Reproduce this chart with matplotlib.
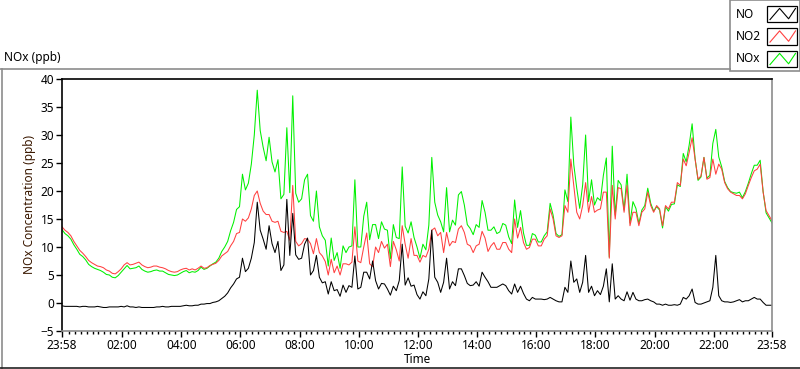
import numpy as np
import matplotlib
matplotlib.use("Agg")
import matplotlib.pyplot as plt
from matplotlib.lines import Line2D
from matplotlib.patches import Rectangle

plt.rcParams['font.family'] = ['Noto Sans', 'DejaVu Sans']

# samples every 6 minutes, starting 23:58 the day before (hours of day)
start_h = -2 / 60
step_h = 0.1

no = [
    -0.5, -0.6, -0.6, -0.6, -0.6, -0.6, -0.7, -0.6, -0.6, -0.7, -0.7, -0.7,
    -0.6, -0.7, -0.8, -0.8, -0.7, -0.7, -0.7, -0.7, -0.6, -0.7, -0.5, -0.7,
    -0.7, -0.8, -0.7, -0.8, -0.8, -0.8, -0.8, -0.8, -0.7, -0.7, -0.6, -0.7,
    -0.7, -0.6, -0.6, -0.6, -0.6, -0.5, -0.4, -0.5, -0.5, -0.4, -0.4, -0.2,
    -0.2, -0.1, -0.1, 0.1, 0.2, 0.4, 0.8, 1.2, 1.8, 2.7, 3.4, 4.3,
    4.6, 8.0, 5.6, 6.2, 8.0, 10.8, 18.0, 13.0, 11.4, 9.6, 13.8, 10.6,
    9.0, 11.0, 5.8, 6.8, 18.5, 8.5, 16.0, 8.6, 7.8, 8.0, 10.5, 11.6,
    5.0, 5.8, 8.5, 4.6, 3.6, 3.8, 1.6, 3.8, 2.2, 2.4, 1.2, 3.2,
    1.9, 3.1, 2.8, 8.4, 2.5, 2.8, 5.5, 5.5, 4.3, 7.5, 4.0, 2.5,
    3.5, 3.4, 2.5, 1.4, 3.0, 2.2, 4.0, 10.5, 3.2, 4.5, 3.0, 3.2,
    1.5, 0.7, 2.0, 1.3, 4.3, 13.0, 4.6, 3.7, 1.9, 3.7, 8.0, 2.5,
    3.8, 3.1, 6.1, 6.1, 4.9, 3.5, 3.1, 3.2, 3.8, 3.0, 5.5, 4.6,
    3.8, 2.8, 2.8, 2.8, 3.1, 3.4, 3.1, 2.2, 1.6, 3.4, 1.9, 3.0,
    1.7, 0.7, 0.4, 1.0, 0.7, 0.7, 0.7, 0.6, 0.7, 1.0, 0.7, 0.4,
    0.2, 0.2, 2.8, 1.9, 7.5, 3.7, 4.3, 1.9, 3.7, 8.5, 1.9, 3.0,
    1.3, 2.2, 1.5, 3.0, 6.1, 0.2, 7.0, 0.7, 1.3, 0.7, 0.4,
    2.0, 0.5, 1.9, 0.7, 0.4, 0.4, 0.6, 0.7, 0.4, 0.2, -0.2, -0.2,
    -0.4, -0.2, -0.4, -0.4, -0.3, -0.4, -0.2, 1.0, 0.7, 1.3, 2.5, 0.1,
    -0.2, -0.2, 0.0, 0.2, 0.4, 2.8, 8.5, 1.3, 0.4, 0.2, 0.2, 0.1,
    0.2, 0.4, 0.6, 0.2, 0.4, 0.4, 0.7, 1.0, 0.7, 0.7, 0.1, -0.4,
    -0.4, -0.4,
]

no2 = [
    13.6, 13.0, 12.6, 12.0, 11.0, 10.2, 9.4, 8.9, 8.3, 7.6, 7.2, 6.9,
    6.6, 6.5, 6.3, 5.9, 5.7, 5.3, 5.2, 5.6, 6.1, 6.8, 7.2, 6.8,
    6.9, 7.1, 7.3, 6.8, 6.5, 6.3, 6.4, 6.6, 6.6, 6.4, 6.3, 6.1,
    5.8, 5.6, 5.5, 5.6, 5.9, 6.1, 6.2, 5.9, 6.1, 5.9, 6.2, 6.6,
    6.2, 6.3, 6.7, 6.9, 7.1, 7.6, 8.4, 8.8, 9.2, 10.2, 11.0, 12.4,
    12.6, 15.0, 14.6, 15.2, 16.8, 19.2, 20.0, 17.8, 16.4, 15.8, 15.8, 14.6,
    14.4, 14.6, 12.8, 12.6, 12.8, 11.2, 21.0, 11.0, 10.2, 10.6, 11.5, 11.4,
    10.6, 8.8, 11.5, 9.0, 8.4, 7.4, 5.0, 7.8, 5.4, 6.6, 5.0, 7.0,
    7.0, 6.8, 7.3, 13.6, 7.5, 7.2, 10.0, 12.5, 7.0, 6.5, 10.0, 9.0,
    11.0, 9.8, 10.5, 6.5, 11.0, 9.5, 7.5, 13.8, 10.5, 8.0, 11.5, 8.5,
    8.5, 7.3, 8.5, 8.2, 9.6, 13.0, 13.4, 12.0, 12.6, 9.0, 12.6, 10.2,
    11.0, 10.8, 13.2, 13.8, 12.6, 10.5, 10.2, 9.0, 10.2, 10.5, 12.8, 11.6,
    9.2, 10.2, 10.8, 9.6, 9.6, 10.8, 10.8, 9.6, 9.0, 15.0, 11.6, 13.5,
    10.8, 9.6, 9.9, 11.4, 11.4, 10.2, 10.2, 11.4, 12.0, 16.8, 15.0, 12.0,
    11.7, 12.0, 17.4, 16.2, 25.7, 21.0, 16.2, 15.0, 17.4, 21.5, 16.2, 19.0,
    16.2, 16.6, 16.8, 19.8, 19.8, 8.0, 21.0, 15.0, 20.6, 20.4, 16.2,
    21.0, 13.8, 16.2, 16.2, 13.8, 16.2, 16.8, 19.8, 17.4, 16.2, 17.4, 16.8,
    13.8, 17.4, 16.8, 18.0, 18.0, 21.5, 21.0, 25.7, 24.5, 26.9, 29.5, 25.7,
    22.1, 22.7, 26.0, 22.1, 22.4, 25.7, 23.0, 24.8, 23.9, 21.5, 20.4, 19.8,
    19.5, 19.2, 19.2, 18.6, 19.5, 21.0, 22.4, 23.6, 23.9, 24.8, 19.8, 16.5,
    15.6, 14.7,
]

nox = [
    13.1, 12.4, 12.0, 11.4, 10.4, 9.6, 8.7, 8.3, 7.7, 6.9, 6.5, 6.2,
    6.0, 5.8, 5.5, 5.1, 5.0, 4.6, 4.5, 4.9, 5.5, 6.1, 6.7, 6.1,
    6.2, 6.3, 6.6, 6.0, 5.7, 5.5, 5.6, 5.8, 5.9, 5.7, 5.7, 5.4,
    5.1, 5.0, 4.9, 5.0, 5.3, 5.6, 5.8, 5.4, 5.6, 5.5, 5.8, 6.4,
    6.0, 6.2, 6.6, 7.0, 7.3, 8.0, 9.2, 10.0, 11.0, 12.9, 14.4, 16.7,
    17.2, 23.0, 20.2, 21.4, 24.8, 30.0, 38.0, 30.8, 27.8, 25.4, 29.6, 25.2,
    23.4, 25.6, 18.6, 19.4, 31.3, 19.7, 37.0, 19.6, 18.0, 18.6, 22.0, 23.0,
    15.6, 14.6, 20.0, 13.6, 12.0, 11.2, 6.6, 11.6, 7.6, 9.0, 6.2, 10.2,
    9.0, 10.0, 10.2, 22.0, 10.0, 10.0, 15.5, 18.0, 11.3, 14.0, 14.0, 11.5,
    14.5, 13.2, 13.0, 7.9, 14.0, 11.7, 11.5, 24.3, 13.7, 12.5, 14.5, 11.7,
    10.0, 8.0, 10.5, 9.5, 13.9, 26.0, 18.0, 15.7, 14.5, 12.7, 20.6, 12.7,
    14.8, 13.9, 19.3, 19.9, 17.5, 14.0, 13.3, 12.2, 14.0, 13.5, 18.3, 16.2,
    13.0, 13.0, 13.6, 12.4, 12.7, 14.2, 13.9, 11.8, 10.6, 18.4, 13.5, 16.5,
    12.5, 10.3, 10.3, 12.4, 12.1, 10.9, 10.9, 12.0, 12.7, 17.8, 15.7, 12.4,
    11.9, 12.2, 20.2, 18.1, 33.2, 24.7, 20.5, 16.9, 21.1, 30.0, 18.1, 22.0,
    17.5, 18.8, 18.3, 22.8, 25.9, 8.2, 28.0, 15.7, 21.9, 21.1, 16.6,
    23.0, 14.3, 18.1, 16.9, 14.2, 16.6, 17.4, 20.5, 17.8, 16.4, 17.2, 16.6,
    13.4, 17.2, 16.4, 17.6, 17.7, 21.1, 20.8, 26.7, 25.2, 28.2, 32.0, 25.8,
    21.9, 22.5, 26.0, 22.3, 22.8, 28.5, 31.0, 26.1, 24.3, 21.7, 20.6, 19.9,
    19.7, 19.6, 19.8, 18.8, 19.9, 21.4, 23.1, 24.6, 24.6, 25.5, 19.9, 16.1,
    15.2, 14.3,
]

series_names = ['NO', 'NO2', 'NOx']
series_colors = ['#000000', '#ff4040', '#00f000']

tick_hours = [start_h, 2, 4, 6, 8, 10, 12, 14, 16, 18, 20, 22, 24 + start_h]
tick_labels = ['23:58', '02:00', '04:00', '06:00', '08:00', '10:00', '12:00',
               '14:00', '16:00', '18:00', '20:00', '22:00', '23:58']

t = start_h + step_h * np.arange(len(no))

fig = plt.figure(figsize=(8, 3.69), dpi=100)
fig.patch.set_facecolor('white')
ax = fig.add_axes([62 / 800, 1 - 331 / 369, 710 / 800, 252 / 369])

# NOx first, then NO2, then NO on top
ax.plot(t, nox, color=series_colors[2], lw=0.75)
ax.plot(t, no2, color=series_colors[1], lw=0.75)
ax.plot(t, no, color=series_colors[0], lw=0.75)

ax.set_xlim(start_h, 24 + start_h)
ax.set_ylim(-5, 40)
ax.set_yticks(range(-5, 41, 5))
ax.set_xticks(tick_hours)
ax.set_xticklabels(tick_labels)
minor = [m * 0.2 for m in range(0, 120) if m % 10 != 0]
ax.set_xticks(minor, minor=True)
ax.tick_params(axis='both', which='major', direction='out', length=4,
               width=1, labelsize=8.5, colors='black', pad=1.5)
ax.tick_params(axis='x', which='minor', direction='out', length=2.5, width=1)

ax.spines['left'].set_color('black')
ax.spines['top'].set_color('black')
ax.spines['right'].set_color('#8c8c8c')
ax.spines['bottom'].set_color('#8c8c8c')
for s in ax.spines.values():
    s.set_linewidth(1.2)

ax.set_xlabel('Time', fontsize=8.5, labelpad=1)
ax.set_ylabel('NOx Concentration (ppb)', fontsize=8.5, color='#3a1800',
              labelpad=3)

fig.text(4 / 800, 1 - 58 / 369, 'NOx (ppb)', fontsize=8.5, va='center',
         ha='left')

# outer frame of the graph panel
fig.add_artist(Line2D([0, 730 / 800], [1 - 69 / 369] * 2, color='#8c8c8c',
                      lw=1.2, transform=fig.transFigure))
fig.add_artist(Line2D([1.5 / 800] * 2, [1 - 69 / 369, 0], color='#8c8c8c',
                      lw=1.2, transform=fig.transFigure))
fig.add_artist(Line2D([0, 1], [1 / 369] * 2, color='#222222',
                      lw=1.2, transform=fig.transFigure))

# plot legend box (top right)
fig.add_artist(Rectangle((730 / 800, 1 - 71 / 369), 70 / 800, 71 / 369,
                         transform=fig.transFigure, facecolor='white',
                         edgecolor='#8c8c8c', lw=1.2))
zig_x = np.array([0.1, 0.42, 0.72, 0.95])
zig_y = np.array([0.15, 0.85, 0.2, 0.85])
for k, (name, col) in enumerate(zip(series_names, series_colors)):
    yc = 14 + k * 22.5
    fig.text(736 / 800, 1 - yc / 369, name, fontsize=8.5, va='center',
             ha='left')
    x0, y0, w, h = 767, yc + 8, 30, 16
    fig.add_artist(Rectangle((x0 / 800, 1 - y0 / 369), w / 800, h / 369,
                             transform=fig.transFigure, facecolor='white',
                             edgecolor='black', lw=0.9))
    fig.add_artist(Line2D((x0 + zig_x * w) / 800,
                          1 - (y0 - zig_y * h) / 369, color=col, lw=0.8,
                          transform=fig.transFigure))

fig.savefig('out.png', dpi=100)
